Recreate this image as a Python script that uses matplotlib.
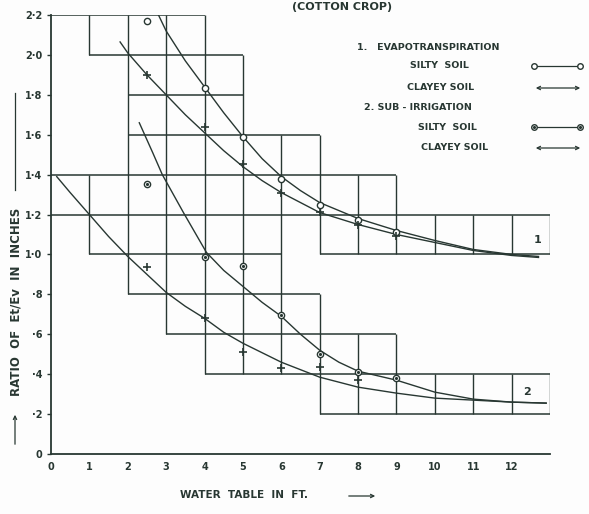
import matplotlib.pyplot as plt
from matplotlib.patches import FancyArrowPatch

# ratio Et/Ev against depth of water table, cotton crop
xticks = list(range(13))
yticks = [0, 0.2, 0.4, 0.6, 0.8, 1.0, 1.2, 1.4, 1.6, 1.8, 2.0, 2.2]
ytick_labels = ['0', '·2', '·4', '·6', '·8', '1·0', '1·2', '1·4', '1·6', '1·8', '2·0', '2·2']

# staircase boxes: (y, x from, x to) and (x, y from, y to)
grid_h = [(2.2, 0, 4), (2.0, 1, 5), (1.8, 2, 5), (1.6, 2, 7), (1.4, 0, 9), (1.2, 0, 13),
          (1.0, 1, 6), (1.0, 7, 13), (0.8, 2, 7), (0.6, 3, 9), (0.4, 4, 13), (0.2, 7, 13)]
grid_v = [(1, 2.0, 2.2), (1, 1.0, 1.4), (2, 0.8, 2.2), (3, 0.6, 2.2), (4, 0.4, 2.2),
          (5, 0.4, 2.0), (6, 0.4, 1.6), (7, 1.0, 1.6), (7, 0.2, 0.8), (8, 1.0, 1.4),
          (8, 0.2, 0.6), (9, 1.0, 1.4), (9, 0.2, 0.6), (10, 1.0, 1.2), (10, 0.2, 0.4),
          (11, 1.0, 1.2), (11, 0.2, 0.4), (12, 1.0, 1.2), (12, 0.2, 0.4),
          (13, 1.0, 1.2), (13, 0.2, 0.4)]

# observed points
pts_x = [2.5, 4, 5, 6, 7, 8, 9]
et_silty = [2.17, 1.835, 1.59, 1.38, 1.25, 1.175, 1.115]
et_clayey = [1.90, 1.64, 1.455, 1.31, 1.215, 1.15, 1.09]
sub_silty = [1.355, 0.985, 0.94, 0.695, 0.50, 0.41, 0.38]
sub_clayey_x = [2.5, 4, 5, 6, 7, 8]
sub_clayey = [0.935, 0.68, 0.51, 0.43, 0.435, 0.37]

# hand drawn curves
c1_silty_x = [2.8, 3.0, 3.5, 4, 4.5, 5, 5.5, 6, 6.5, 7, 8, 9, 10, 11, 12, 12.7]
c1_silty_y = [2.2, 2.12, 1.97, 1.84, 1.71, 1.59, 1.48, 1.39, 1.32, 1.26, 1.18, 1.12, 1.07, 1.025, 1.0, 0.99]
c1_clay_x = [1.8, 2, 2.5, 3, 3.5, 4, 4.5, 5, 5.5, 6, 6.5, 7, 8, 9, 10, 11, 12, 12.7]
c1_clay_y = [2.065, 2.01, 1.90, 1.80, 1.70, 1.61, 1.52, 1.44, 1.37, 1.31, 1.26, 1.21, 1.15, 1.10, 1.06, 1.02, 0.995, 0.985]
c2_silty_x = [2.3, 2.65, 2.9, 3.45, 4.05, 4.5, 5, 5.5, 6, 6.5, 7, 7.5, 8, 9, 10, 11, 12, 12.9]
c2_silty_y = [1.66, 1.51, 1.40, 1.21, 1.01, 0.92, 0.84, 0.76, 0.69, 0.60, 0.52, 0.46, 0.415, 0.37, 0.31, 0.275, 0.26, 0.255]
c2_clay_x = [0.15, 0.5, 1, 1.5, 2, 2.5, 3, 3.5, 4, 4.5, 5, 6, 7, 8, 9, 10, 11, 12, 12.9]
c2_clay_y = [1.39, 1.31, 1.20, 1.09, 0.99, 0.90, 0.81, 0.74, 0.68, 0.61, 0.555, 0.46, 0.385, 0.335, 0.305, 0.28, 0.27, 0.26, 0.255]

ink = '#283732'
plt.rcParams['font.family'] = ['DejaVu Sans']

fig = plt.figure(figsize=(5.89, 5.14), dpi=100)
fig.patch.set_facecolor('#fdfdfd')
ax = fig.add_axes([51 / 589, 60 / 514, 499 / 589, 439 / 514])
ax.set_facecolor('#fdfdfd')

for y, a, b in grid_h:
    ax.hlines(y, a, b, color=ink, lw=1.1)
for x, a, b in grid_v:
    ax.vlines(x, a, b, color=ink, lw=1.0)

for cx, cy in [(c1_silty_x, c1_silty_y), (c1_clay_x, c1_clay_y),
               (c2_silty_x, c2_silty_y), (c2_clay_x, c2_clay_y)]:
    ax.plot(cx, cy, color=ink, lw=1.0)

ax.plot(pts_x, et_silty, 'o', ms=4.5, mfc='white', mec=ink, mew=1.0)
ax.plot(pts_x, et_clayey, '+', ms=5.5, mec=ink, mew=1.2)
ax.plot(pts_x, sub_silty, 'o', ms=4.5, mfc='white', mec=ink, mew=1.0)
ax.plot(pts_x, sub_silty, '.', ms=2.5, color=ink)
ax.plot(sub_clayey_x, sub_clayey, '+', ms=5.5, mec=ink, mew=1.2)

ax.text(12.68, 1.07, '1', fontsize=8, fontweight='bold', color=ink, ha='center', va='center')
ax.text(12.4, 0.31, '2', fontsize=8, fontweight='bold', color=ink, ha='center', va='center')

ax.set_xlim(0, 13)
ax.set_ylim(0, 2.2)
ax.set_xticks(xticks)
ax.set_xticklabels([str(v) for v in xticks])
ax.set_yticks(yticks)
ax.set_yticklabels(ytick_labels)
ax.tick_params(axis='x', length=0, pad=6, labelsize=7, colors=ink)
ax.tick_params(axis='y', length=3, width=1, pad=3, labelsize=7, colors=ink)
for t in ax.get_xticklabels() + ax.get_yticklabels():
    t.set_fontweight('bold')
for s in ['top', 'right']:
    ax.spines[s].set_visible(False)
for s in ['left', 'bottom']:
    ax.spines[s].set_color(ink)
    ax.spines[s].set_linewidth(1.3)

# legend written on the sheet
def ax_pt(px, py):
    return ((px - 51) / 499, (454 - py) / 439)

lab = dict(fontsize=6.8, fontweight='bold', color=ink, va='center', transform=ax.transAxes)
ax.text(*ax_pt(357, 47), '1.   EVAPOTRANSPIRATION', **lab)
ax.text(*ax_pt(410, 66), 'SILTY  SOIL', **lab)
ax.text(*ax_pt(407, 87), 'CLAYEY SOIL', **lab)
ax.text(*ax_pt(364, 107), '2. SUB - IRRIGATION', **lab)
ax.text(*ax_pt(418, 127), 'SILTY  SOIL', **lab)
ax.text(*ax_pt(421, 147), 'CLAYEY SOIL', **lab)

for py, dot in [(66, False), (127, True)]:
    x0, y0 = ax_pt(534, py)
    x1, _ = ax_pt(580, py)
    ax.plot([x0, x1], [y0, y0], '-', color=ink, lw=0.9, transform=ax.transAxes, clip_on=False)
    ax.plot([x0, x1], [y0, y0], 'o', ms=4, mfc='white', mec=ink, mew=1.0,
            transform=ax.transAxes, clip_on=False)
    if dot:
        ax.plot([x0, x1], [y0, y0], '.', ms=2.5, color=ink, transform=ax.transAxes, clip_on=False)
for py in [88, 148]:
    ax.annotate('', xy=ax_pt(583, py), xytext=ax_pt(533, py), xycoords='axes fraction',
                arrowprops=dict(arrowstyle='<->', color=ink, lw=0.9, mutation_scale=6),
                annotation_clip=False)

# titles and axis captions
fig.text(342 / 589, 1 - 10 / 514, '(COTTON CROP)', fontsize=8, fontweight='bold',
         color=ink, ha='center', va='baseline')
fig.text(180 / 589, 1 - 495 / 514, 'WATER  TABLE  IN  FT.', fontsize=7.5, fontweight='bold',
         color=ink, ha='left', va='center')
fig.patches.append(FancyArrowPatch(
    (346 / 589, 1 - 496 / 514), (378 / 589, 1 - 496 / 514), transform=fig.transFigure,
    arrowstyle='->', mutation_scale=6, color=ink, lw=0.9))
fig.text(16 / 589, 1 - 302 / 514, 'RATIO  OF  Et/Ev  IN  INCHES', fontsize=8.5,
         fontweight='bold', color=ink, rotation=90, ha='center', va='center')
fig.add_artist(plt.Line2D([15 / 589] * 2, [1 - 190 / 514, 1 - 93 / 514], color=ink, lw=0.9))
fig.patches.append(FancyArrowPatch(
    (15 / 589, 1 - 447 / 514), (15 / 589, 1 - 412 / 514), transform=fig.transFigure,
    arrowstyle='->', mutation_scale=6, color=ink, lw=0.9))

fig.savefig('out.png', dpi=100, facecolor=fig.get_facecolor())
